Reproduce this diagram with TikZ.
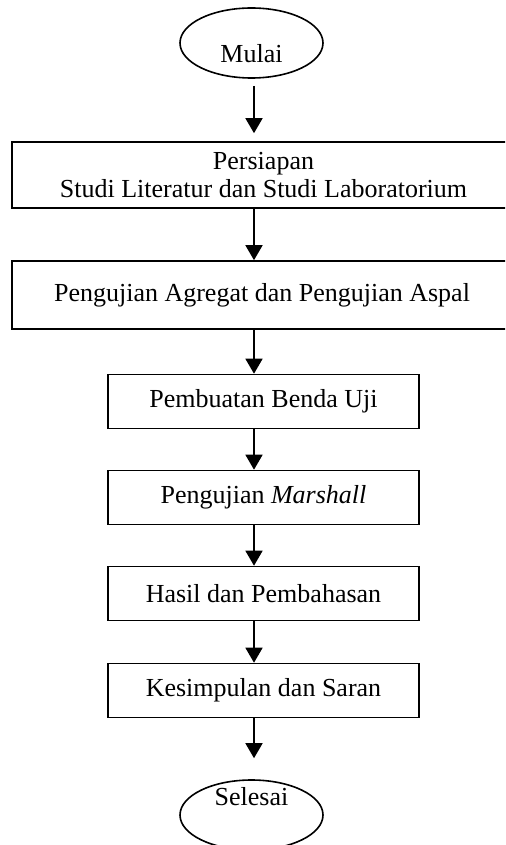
\documentclass[tikz,border=0pt]{standalone}
\usepackage{fontspec}
\setmainfont{Liberation Serif}
\usetikzlibrary{arrows.meta,shapes.geometric}

\begin{document}
\begin{tikzpicture}[x=0.5pt, y=-0.5pt,
    every node/.style = {font=\fontsize{13}{14}\selectfont},
    term/.style = {ellipse, draw=black, line width=0.8pt, minimum width=71.5pt, minimum height=35pt, inner sep=0pt},
    box/.style = {rectangle, draw=black, line width=0.8pt, minimum width=155.5pt, minimum height=27pt, inner sep=0pt, align=center},
    arr/.style = {line width=0.8pt, -{Triangle[length=7.5pt, width=8.5pt]}}]
            \clip (0,0) rectangle (505,845);
            \coordinate (a) at (254,0);

            \node[term, text height=20pt, text depth=0pt] (1) at (251.5,43) {Mulai};
            \node[box, minimum width=251.5pt, minimum height=33pt] (2) at (263.5,175) {Persiapan\\Studi Literatur dan Studi Laboratorium};
            \node[box, minimum width=250pt, minimum height=34pt] (3) at (262,295) {Pengujian Agregat dan Pengujian Aspal};
            \node[box] (4) at (263.5,401.5) {Pembuatan Benda Uji};
            \node[box] (5) at (263.5,497.5) {Pengujian \textit{Marshall}};
            \node[box] (6) at (263.5,593.5) {Hasil dan Pembahasan};
            \node[box] (7) at (263.5,690.5) {Kesimpulan dan Saran};
            \node[term, text height=0pt, text depth=10pt] (8) at (251.5,815) {Selesai};

            \draw[arr, shorten <=3.5pt, shorten >=4pt] (1.south -| a) -- (2.north -| a);
            \draw[arr] (2.south -| a) -- (3.north -| a);
            \draw[arr] (3.south -| a) -- (4.north -| a);
            \draw[arr] (4.south -| a) -- (5.north -| a);
            \draw[arr] (5.south -| a) -- (6.north -| a);
            \draw[arr] (6.south -| a) -- (7.north -| a);
            \draw[arr, shorten >=10.5pt] (7.south -| a) -- (8.north -| a);
        \end{tikzpicture}
\end{document}
